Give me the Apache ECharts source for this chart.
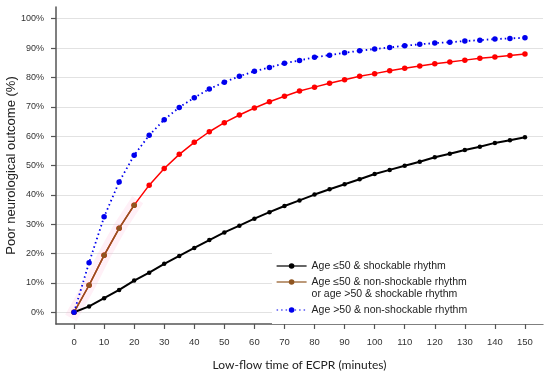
<!DOCTYPE html>
<html>
<head>
<meta charset="utf-8">
<script src="https://cdn.jsdelivr.net/npm/echarts@6/dist/echarts.min.js"></script>
<style>
html,body{margin:0;padding:0;background:#fff;}
#chart{width:550px;height:375px;}
</style>
</head>
<body>
<div id="chart"></div>
<script>
// ---- data ----
const minutes = [0,5,10,15,20,25,30,35,40,45,50,55,60,65,70,75,80,85,90,95,100,105,110,115,120,125,130,135,140,145,150];
const blackVals = [0,2.0,4.8,7.6,10.8,13.5,16.5,19.2,21.9,24.6,27.2,29.5,31.9,34.1,36.2,38.1,40.1,41.9,43.6,45.3,47.1,48.5,49.9,51.3,52.8,54.0,55.3,56.4,57.7,58.6,59.6];
const redVals = [0,9.2,19.4,28.6,36.5,43.3,49.0,53.8,57.9,61.5,64.6,67.2,69.6,71.7,73.6,75.4,76.7,78.0,79.2,80.4,81.3,82.3,83.1,83.9,84.7,85.3,85.9,86.5,87.0,87.5,88.0];
const brownMinutes = [0,5,10,15,20];
const brownVals = [0,9.2,19.4,28.6,36.5];
const blueVals = [0,16.9,32.5,44.4,53.5,60.3,65.6,69.8,73.1,76.1,78.4,80.4,82.1,83.4,84.8,85.8,86.9,87.6,88.4,89.1,89.7,90.2,90.8,91.3,91.7,92.0,92.4,92.7,93.1,93.3,93.5];
const xTicks = [0,10,20,30,40,50,60,70,80,90,100,110,120,130,140,150];
const yTicks = [0,10,20,30,40,50,60,70,80,90,100];
const names = [
  'Age ≤50 & shockable rhythm',
  'Age ≤50 & non-shockable rhythm\nor age >50 & shockable rhythm',
  'Age >50 & non-shockable rhythm'
];
const xName = 'Low-flow time of ECPR (minutes)';
const yName = 'Poor neurological outcome (%)';

const pair = (xs, ys) => xs.map((x, i) => [x, ys[i]]);

const chart = echarts.init(document.getElementById('chart'), null, {renderer: 'canvas'});
const axisColor = '#555';
const legendText = {fontFamily: 'Liberation Sans', fontSize: 10.5, lineHeight: 12, color: '#222'};
chart.setOption({
  animation: false,
  backgroundColor: '#fff',
  grid: {left: 56, right: 7, top: 7, bottom: 51, containLabel: false, outerBoundsMode: 'none'},
  xAxis: {
    type: 'value', min: -6, max: 156,
    name: xName, nameLocation: 'middle', nameGap: 35, nameMoveOverlap: false,
    nameTextStyle: {fontFamily: 'Lato', fontSize: 12, color: '#222'},
    axisLine: {show: true, onZero: false, lineStyle: {color: axisColor, width: 1.5}},
    axisTick: {show: true, length: 5, customValues: xTicks, lineStyle: {color: axisColor, width: 1.2}},
    axisLabel: {customValues: xTicks, margin: 13, fontFamily: 'Liberation Sans', fontSize: 9.5, color: '#333'},
    splitLine: {show: false}
  },
  yAxis: {
    type: 'value', min: -4, max: 104,
    name: yName, nameLocation: 'middle', nameGap: 38, nameRotate: 90, nameMoveOverlap: false,
    nameTextStyle: {fontFamily: 'Liberation Sans', fontSize: 13, color: '#222'},
    axisLine: {show: true, onZero: false, lineStyle: {color: axisColor, width: 1.5}},
    axisTick: {show: true, length: 5, customValues: yTicks, lineStyle: {color: axisColor, width: 1.2}},
    axisLabel: {customValues: yTicks, margin: 12, formatter: v => v + '%', fontFamily: 'Liberation Sans', fontSize: 9, color: '#333'},
    splitLine: {show: true, lineStyle: {color: '#e2e2e2', width: 1}}
  },
  legend: [
    {
      orient: 'vertical',
      left: 272, top: 240,
      padding: [20, 120, 4, 4],
      backgroundColor: '#fff',
      itemGap: -8,
      itemWidth: 30, itemHeight: 7,
      data: [names[0], names[1]],
      formatter: n => (n === names[1] ? '\n' + n : n),
      lineStyle: {width: 1.2},
      textStyle: legendText,
      selectedMode: false
    },
    {
      orient: 'vertical',
      left: 272, top: 304,
      padding: [0, 120, 8, 4],
      backgroundColor: '#fff',
      itemWidth: 30, itemHeight: 7,
      data: [names[2]],
      lineStyle: {width: 1.2},
      textStyle: legendText,
      selectedMode: false
    }
  ],
  series: [
    {
      name: names[0], type: 'line', z: 2,
      data: pair(minutes, blackVals),
      symbol: 'circle', symbolSize: 4.5, showAllSymbol: true,
      lineStyle: {color: '#000', width: 2},
      itemStyle: {color: '#000'}
    },
    {
      name: 'band', type: 'line', z: 1, silent: true,
      data: pair(brownMinutes, brownVals),
      symbol: 'none',
      lineStyle: {color: 'rgba(255,170,210,0.18)', width: 13, cap: 'square'}
    },
    {
      name: 'red', type: 'line', z: 3,
      data: pair(minutes, redVals),
      symbol: 'circle', symbolSize: 5.5, showAllSymbol: true,
      lineStyle: {color: '#ff0000', width: 1.5},
      itemStyle: {color: '#ff0000'}
    },
    {
      name: names[1], type: 'line', z: 4,
      data: pair(brownMinutes, brownVals),
      symbol: 'circle', symbolSize: 5.5, showAllSymbol: true,
      lineStyle: {color: '#8f5520', width: 1.5},
      itemStyle: {color: '#8f5520'}
    },
    {
      name: names[2], type: 'line', z: 5,
      data: pair(minutes, blueVals),
      symbol: 'circle', symbolSize: 5.5, showAllSymbol: true,
      lineStyle: {color: '#0000ee', width: 1.8, type: [1.5, 3]},
      itemStyle: {color: '#0000ee'}
    }
  ]
});
</script>
</body>
</html>
